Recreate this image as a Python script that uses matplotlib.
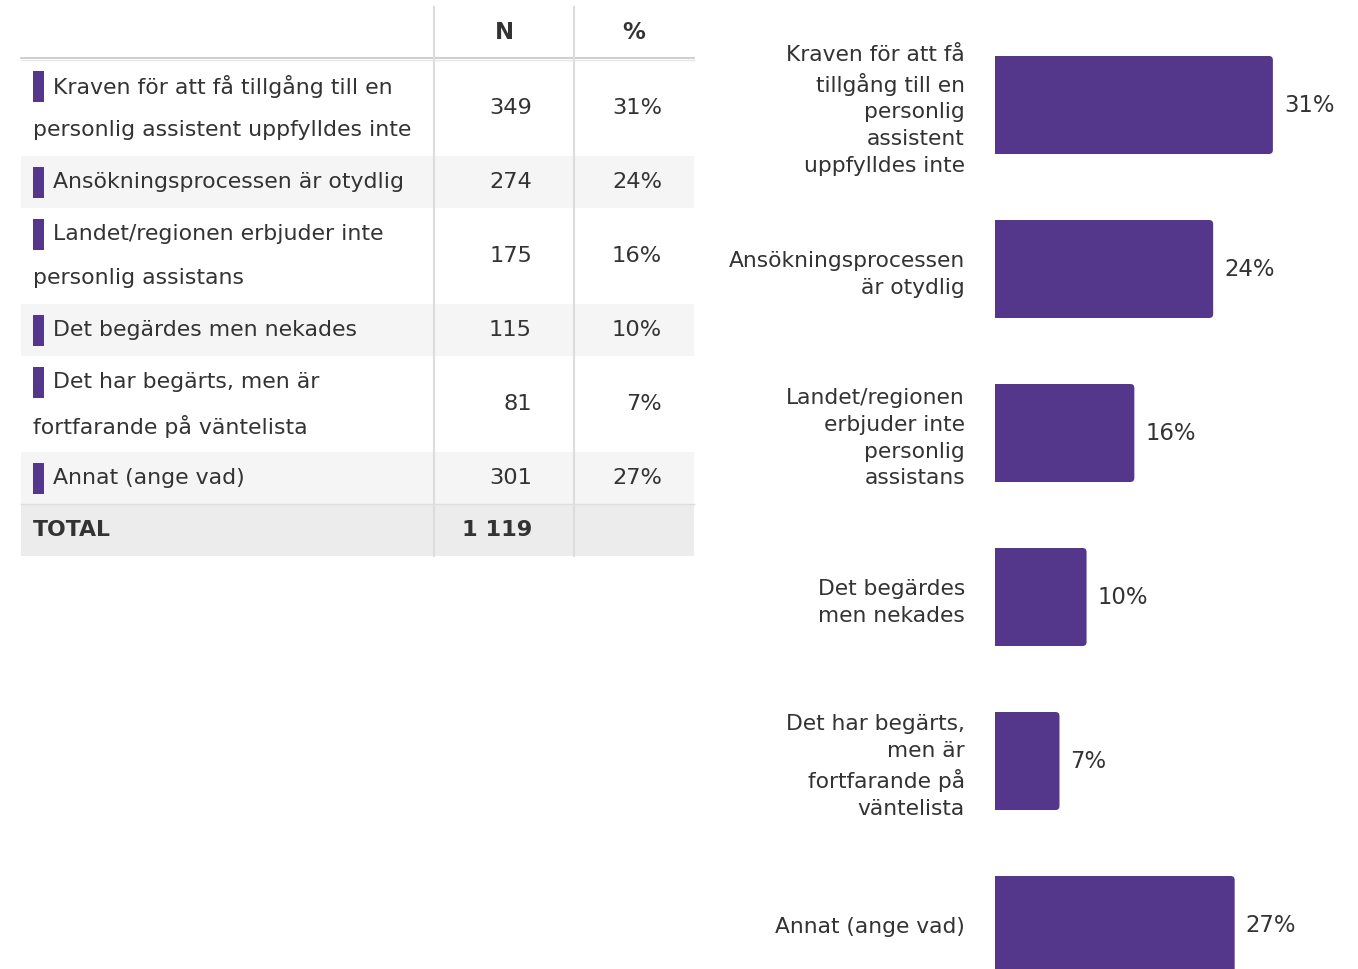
import matplotlib
matplotlib.use("Agg")
import matplotlib.pyplot as plt
from matplotlib.patches import Rectangle, FancyBboxPatch

# Survey answers: reasons personal assistance was not obtained
table_labels = [
    ["Kraven för att få tillgång till en", "personlig assistent uppfylldes inte"],
    ["Ansökningsprocessen är otydlig"],
    ["Landet/regionen erbjuder inte", "personlig assistans"],
    ["Det begärdes men nekades"],
    ["Det har begärts, men är", "fortfarande på väntelista"],
    ["Annat (ange vad)"],
]
bar_labels = [
    "Kraven för att få\ntillgång till en\npersonlig\nassistent\nuppfylldes inte",
    "Ansökningsprocessen\när otydlig",
    "Landet/regionen\nerbjuder inte\npersonlig\nassistans",
    "Det begärdes\nmen nekades",
    "Det har begärts,\nmen är\nfortfarande på\nväntelista",
    "Annat (ange vad)",
]
counts = [349, 274, 175, 115, 81, 301]
total_respondents = 1119
header = ["N", "%"]
total_label = "TOTAL"

shares = [c / total_respondents for c in counts]

PURPLE = "#54378A"
TEXT = "#333333"
GRID = "#dddddd"
STRIPE = "#f5f5f5"
TOTAL_BG = "#ececec"
FONT = "DejaVu Sans"

W, H = 1358, 969
fig = plt.figure(figsize=(W / 100, H / 100), dpi=100)

# ---------------- table (pixel coordinate canvas) ----------------
tab = fig.add_axes([0, 0, 1, 1])
tab.set_xlim(0, W)
tab.set_ylim(H, 0)
tab.axis("off")

x0, x1, xc1, xc2 = 21, 694, 434, 574
head_top, head_bot = 7, 59
single_h, double_h = 52, 96
fs_tab = 15.8
fs_num = 16.2

tab.text((xc1 + xc2) / 2, 32, header[0], ha="center", va="center",
         fontsize=16.4, fontweight="bold", color=TEXT, family=FONT)
tab.text((xc2 + x1) / 2, 32, header[1], ha="center", va="center",
         fontsize=16.4, fontweight="bold", color=TEXT, family=FONT)
tab.plot([x0, x1], [head_bot - 1, head_bot - 1], color="#cccccc", lw=1.3)
tab.plot([x0, x1], [head_bot + 1, head_bot + 1], color="#e6e6e6", lw=1.0)

y = head_bot + 1
for i, (lines, n, s) in enumerate(zip(table_labels, counts, shares)):
    h = single_h if len(lines) == 1 else double_h
    if i % 2 == 1:
        tab.add_patch(Rectangle((x0, y), x1 - x0, h, color=STRIPE, lw=0, zorder=0))
    yc = y + h / 2
    if len(lines) == 1:
        ly = [yc]
    else:
        ly = [yc - 22, yc + 22]
    tab.add_patch(Rectangle((33, ly[0] - 15.5), 11, 31, color=PURPLE, lw=0))
    for j, (t, yy) in enumerate(zip(lines, ly)):
        tab.text(53 if j == 0 else 33, yy, t, ha="left", va="center",
                 fontsize=fs_tab, color=TEXT, family=FONT)
    tab.text(532, yc, f"{n}", ha="right", va="center",
             fontsize=fs_num, color=TEXT, family=FONT)
    tab.text(662, yc, f"{s:.0%}", ha="right", va="center",
             fontsize=fs_num, color=TEXT, family=FONT)
    y += h

tab.add_patch(Rectangle((x0, y), x1 - x0, single_h, color=TOTAL_BG, lw=0, zorder=0))
tab.plot([x0, x1], [y, y], color="#dddddd", lw=1.0)
tab.text(33, y + single_h / 2, total_label, ha="left", va="center",
         fontsize=fs_tab, fontweight="bold", color=TEXT, family=FONT)
tab.text(532, y + single_h / 2, f"{total_respondents:,}".replace(",", " "),
         ha="right", va="center", fontsize=fs_num, fontweight="bold",
         color=TEXT, family=FONT)
y_end = y + single_h
for xv in (xc1, xc2):
    tab.plot([xv, xv], [head_top, y_end], color=GRID, lw=1.5)

# ---------------- horizontal bar chart ----------------
bar_left = 995
px_per_unit = 891
row_step = 164
first_center = 105
ax = fig.add_axes([bar_left / W, 0, (W - bar_left) / W, 1])
ax.set_xlim(0, (W - bar_left) / px_per_unit)
ax.set_ylim((H - first_center) / row_step, -first_center / row_step)
pos = list(range(len(counts)))
bars = ax.barh(pos, shares, height=98 / row_step, color=PURPLE, linewidth=0)

# rounded right-hand corners (radius ~4 px); the left edge is squared off
# by starting the box just left of the axis and letting the axes clip it
radius_px = 4
r = radius_px / px_per_unit
aspect = px_per_unit / row_step
for b in bars:
    b.set_visible(False)
    fb = FancyBboxPatch((b.get_x() - 2 * r, b.get_y()), b.get_width() + 2 * r,
                        b.get_height(),
                        boxstyle=f"round,pad=0,rounding_size={r}",
                        mutation_aspect=aspect, facecolor=PURPLE, edgecolor="none")
    ax.add_patch(fb)

for p, s in zip(pos, shares):
    ax.text(s + 11 / px_per_unit, p, f"{s:.0%}", ha="left", va="center",
            fontsize=16.4, color=TEXT, family=FONT)
ax.set_yticks(pos)
ax.set_yticklabels(bar_labels, fontsize=15.7, color=TEXT, family=FONT,
                   linespacing=1.42, ha="right")
ax.tick_params(axis="y", length=0, pad=21.6)
ax.set_xticks([])
for sp in ax.spines.values():
    sp.set_visible(False)
ax.patch.set_alpha(0)

fig.savefig("out.png", dpi=100)
